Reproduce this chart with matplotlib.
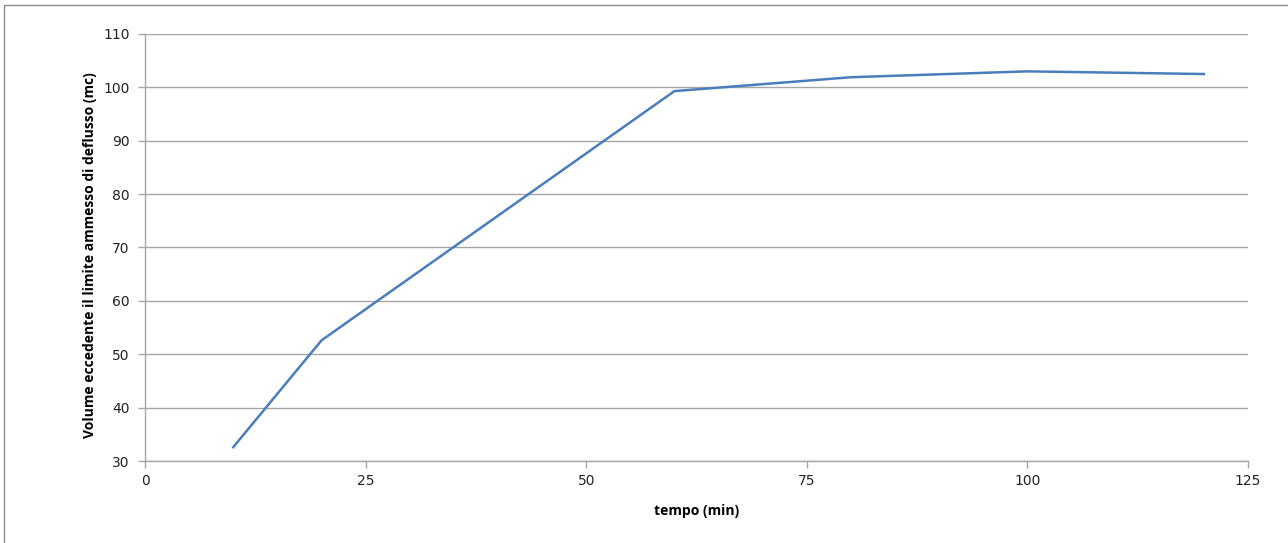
import matplotlib
matplotlib.use("Agg")
import matplotlib.pyplot as plt
from matplotlib.patches import Rectangle

# Volume eccedente vs durata
tempo = [10, 20, 60, 80, 100, 120]
volume = [32.6, 52.6, 99.3, 101.9, 103.0, 102.5]
x_ticks = [0, 25, 50, 75, 100, 125]
y_ticks = [30, 40, 50, 60, 70, 80, 90, 100, 110]

fig = plt.figure(figsize=(12.88, 5.43), dpi=100)
ax = fig.add_axes([0.1126, 0.151, 0.9689 - 0.1126, 0.9374 - 0.151])

# chart frame (only top and left edges visible)
fig.patches.append(Rectangle((0.0031, -0.1), 1.2, 1.09, transform=fig.transFigure,
                             fill=False, edgecolor='#8c8c8c', linewidth=1.0))

grid_c = '#a6a6a6'
for y in y_ticks:
    ax.axhline(y, color=grid_c, linewidth=1.0, zorder=1)

ax.plot(tempo, volume, color='#4a7ebb', linewidth=1.8, zorder=3)

ax.set_xlim(0, 125)
ax.set_ylim(30, 110)
ax.set_xticks(x_ticks)
ax.set_yticks(y_ticks)

for side in ['top', 'right']:
    ax.spines[side].set_visible(False)
for side in ['left', 'bottom']:
    ax.spines[side].set_color(grid_c)
    ax.spines[side].set_linewidth(1.0)

ax.tick_params(axis='both', direction='out', length=5, width=1.0, color=grid_c,
               labelsize=10, labelcolor='#222222', pad=4)
ax.tick_params(axis='y', pad=6)

ax.set_xlabel('tempo (min)', fontsize=10, fontweight='bold', family='Open Sans',
              labelpad=12)
ax.set_ylabel('Volume eccedente il limite ammesso di deflusso (mc)', fontsize=10,
              fontweight='bold', family='Open Sans')
ax.yaxis.set_label_coords(-0.0435, 0.482)

fig.savefig('out.png', dpi=100)
